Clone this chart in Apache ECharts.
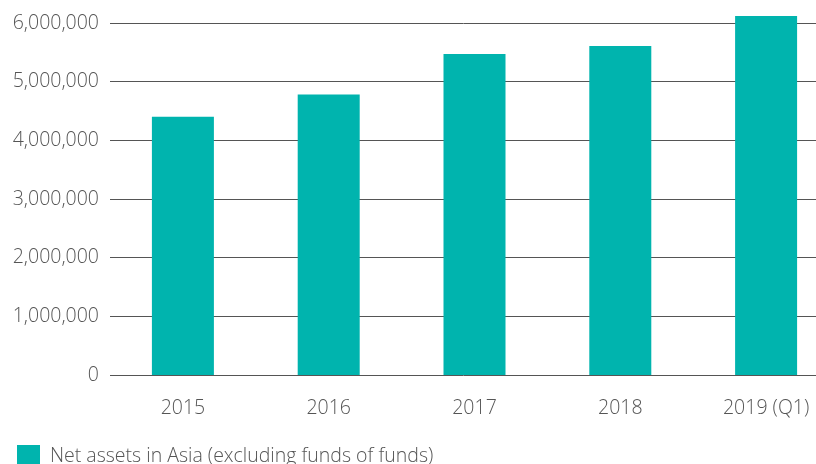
<!DOCTYPE html>
<html>
<head>
<meta charset="utf-8">
<script src="https://cdn.jsdelivr.net/npm/echarts@6/dist/echarts.min.js"></script>
<style>
html, body { margin: 0; padding: 0; background: #fff; }
#chart { width: 816px; height: 464px; }
</style>
</head>
<body>
<div id="chart"></div>
<script>
var years = ['2015', '2016', '2017', '2018', '2019 (Q1)'];
var netAssets = [4400000, 4780000, 5470000, 5610000, 6120000];
var seriesName = 'Net assets in Asia (excluding funds of funds)';

var chart = echarts.init(document.getElementById('chart'));
var font = '"Open Sans", "Noto Sans", sans-serif';

chart.setOption({
    animation: false,
    grid: { left: 110, width: 729, top: 23, height: 352, outerBoundsMode: 'none', containLabel: false },
    legend: {
        left: 12,
        top: 440,
        icon: 'rect',
        itemWidth: 23,
        itemHeight: 23,
        textStyle: { fontFamily: font, fontSize: 19.5, color: '#555', fontWeight: 300, padding: [0, 0, 0, 5] },
        data: [seriesName]
    },
    xAxis: {
        type: 'category',
        data: years,
        axisLine: { show: false },
        axisTick: { show: false },
        axisLabel: { fontFamily: font, fontSize: 19.5, color: '#555', fontWeight: 300, margin: 23 }
    },
    yAxis: {
        type: 'value',
        min: 0,
        max: 6000000,
        interval: 1000000,
        axisLine: { show: false },
        axisTick: { show: false },
        axisLabel: {
            fontFamily: font, fontSize: 19.5, color: '#555', fontWeight: 300, margin: 11,
            formatter: function (v) { return v.toLocaleString('en-US'); }
        },
        splitLine: { lineStyle: { color: '#555', width: 1 } }
    },
    series: [{
        name: seriesName,
        type: 'bar',
        barWidth: 62,
        clip: false,
        itemStyle: { color: '#00b4ae' },
        data: netAssets
    }]
});
</script>
</body>
</html>
